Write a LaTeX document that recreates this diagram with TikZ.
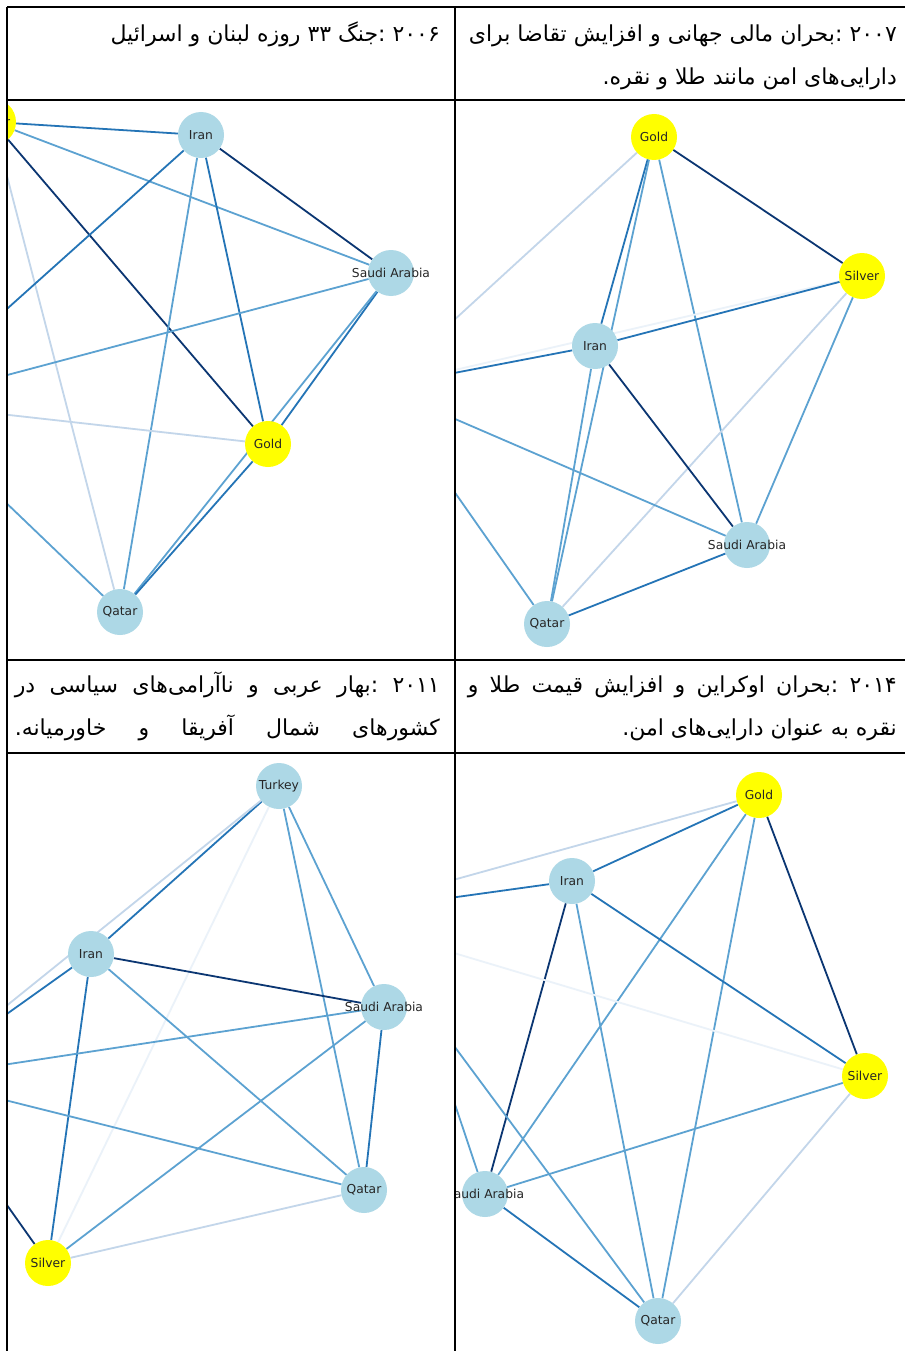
\documentclass[tikz,border=0pt]{standalone}
\usepackage{fontspec}
\newfontfamily\lblfont{DejaVu Sans}
\newfontfamily\farsi[Script=Arabic]{DejaVu Sans}
\TeXXeTstate=1
\definecolor{ndblue}{HTML}{ADD8E6}
\definecolor{ndyellow}{HTML}{FFFF00}
\definecolor{bl9}{HTML}{0B3672}
\definecolor{bl7}{HTML}{2474B6}
\definecolor{bl5}{HTML}{5CA2D1}
\definecolor{bl3}{HTML}{C3D6EA}
\definecolor{bl1}{HTML}{EBF2F9}
\pgfdeclarelayer{edges}
\pgfsetlayers{edges,main}
\newcommand\nlabel[1]{\makebox[0pt]{#1}}
\begin{document}
\begin{tikzpicture}[x=1pt, y=-1pt,
  gnode/.style={circle, fill=ndblue, minimum size=46pt, inner sep=0pt, text=black!85, font=\lblfont\fontsize{12.3}{13}\selectfont},
  ynode/.style={gnode, fill=ndyellow},
  hdr/.style={inner sep=0pt, anchor=base east, font=\farsi\fontsize{22}{26}\selectfont},
  elink/.style={line width=1.8pt},
  edark/.style={elink, draw=bl9},
  emid/.style={elink, draw=bl7},
  elight/.style={elink, draw=bl5},
  epale/.style={elink, draw=bl3},
  efaint/.style={elink, draw=bl1}]
\useasboundingbox (0,0) rectangle (905,1351);
\begin{pgfonlayer}{edges}
  \fill[white] (0,0) rectangle (905,1351);
\end{pgfonlayer}

% header texts
\node[hdr] (h06) at (440,42) {\beginR ۲۰۰۶ :\kern0pt جنگ ۳۳ روزه لبنان و اسرائیل\endR};
\node[hdr] (h07a) at (897,42) {\hbox to 428pt{\beginR ۲۰۰۷ :\kern0pt بحران مالی جهانی و افزایش تقاضا برای\endR}};
\node[hdr] (h07b) at (897,85) {\beginR دارایی‌های امن مانند طلا و نقره\kern0pt.\endR};
\node[hdr] (h11a) at (440,692) {\hbox to 425pt{\beginR ۲۰۱۱ :\kern0pt بهار عربی و ناآرامی‌های سیاسی در\endR}};
\node[hdr] (h11b) at (440,735) {\hbox to 425pt{\beginR کشورهای شمال آفریقا و خاورمیانه\kern0pt.\endR}};
\node[hdr] (h14a) at (897,692) {\hbox to 429pt{\beginR ۲۰۱۴ :\kern0pt بحران اوکراین و افزایش قیمت طلا و\endR}};
\node[hdr] (h14b) at (897,735) {\beginR نقره به عنوان دارایی‌های امن\kern0pt.\endR};

% 2006 network
\begin{scope}
  \clip (7,100) rectangle (455,660);
  \node[ynode] (si1) at (-7,122) {\nlabel{Silver}};
  \node[gnode] (ir1) at (201,135) {\nlabel{Iran}};
  \node[gnode] (sa1) at (391,273) {\nlabel{Saudi Arabia}};
  \node[ynode] (go1) at (268,444) {\nlabel{Gold}};
  \node[gnode] (qa1) at (120,612) {\nlabel{Qatar}};
  \coordinate (x1) at (-98,403);
  \begin{pgfonlayer}{edges}
  \begin{scope}
    \clip (7,100) rectangle (455,660);
    \draw[emid] (si1) -- (ir1);
    \draw[elight] (si1) -- (sa1);
    \draw[edark] (si1) -- (go1);
    \draw[epale] (si1) -- (qa1);
    \draw[emid] (ir1) -- (x1);
    \draw[edark] (ir1) -- (sa1);
    \draw[emid] (ir1) -- (go1);
    \draw[elight] (ir1) -- (qa1);
    \draw[elight] (sa1) -- (x1);
    \draw[emid] (sa1) -- (go1);
    \draw[elight] (sa1) -- (qa1);
    \draw[epale] (go1) -- (x1);
    \draw[emid] (go1) -- (qa1);
    \draw[elight] (qa1) -- (x1);
  \end{scope}
  \end{pgfonlayer}
\end{scope}

% 2007 network
\begin{scope}
  \clip (455,100) rectangle (905,660);
  \node[ynode] (go2) at (654,137) {\nlabel{Gold}};
  \node[ynode] (si2) at (862,276) {\nlabel{Silver}};
  \node[gnode] (ir2) at (595,346) {\nlabel{Iran}};
  \node[gnode] (sa2) at (747,545) {\nlabel{Saudi Arabia}};
  \node[gnode] (qa2) at (547,624) {\nlabel{Qatar}};
  \coordinate (x2) at (381,387);
  \begin{pgfonlayer}{edges}
  \begin{scope}
    \clip (455,100) rectangle (905,660);
    \draw[edark] (go2) -- (si2);
    \draw[emid] (go2) -- (ir2);
    \draw[elight] (go2) -- (qa2);
    \draw[elight] (go2) -- (sa2);
    \draw[epale] (go2) -- (x2);
    \draw[efaint] (si2) -- (x2);
    \draw[emid] (si2) -- (ir2);
    \draw[epale] (si2) -- (qa2);
    \draw[elight] (si2) -- (sa2);
    \draw[edark] (ir2) -- (sa2);
    \draw[elight] (ir2) -- (qa2);
    \draw[emid] (ir2) -- (x2);
    \draw[emid] (sa2) -- (qa2);
    \draw[elight] (sa2) -- (x2);
    \draw[elight] (qa2) -- (x2);
  \end{scope}
  \end{pgfonlayer}
\end{scope}

% 2011 network
\begin{scope}
  \clip (7,753) rectangle (455,1351);
  \node[gnode] (tu3) at (279,786) {\nlabel{Turkey}};
  \node[gnode] (ir3) at (91,954) {\nlabel{Iran}};
  \node[gnode] (sa3) at (384,1007) {\nlabel{Saudi Arabia}};
  \node[gnode] (qa3) at (364,1190) {\nlabel{Qatar}};
  \node[ynode] (si3) at (48,1263) {\nlabel{Silver}};
  \coordinate (x3) at (-83,1078);
  \begin{pgfonlayer}{edges}
  \begin{scope}
    \clip (7,753) rectangle (455,1351);
    \draw[emid] (tu3) -- (ir3);
    \draw[epale] (tu3) -- (x3);
    \draw[elight] (tu3) -- (sa3);
    \draw[elight] (tu3) -- (qa3);
    \draw[efaint] (tu3) -- (si3);
    \draw[edark] (ir3) -- (sa3);
    \draw[emid] (ir3) -- (x3);
    \draw[emid] (ir3) -- (si3);
    \draw[elight] (ir3) -- (qa3);
    \draw[elight] (sa3) -- (x3);
    \draw[emid] (sa3) -- (qa3);
    \draw[elight] (sa3) -- (si3);
    \draw[elight] (qa3) -- (x3);
    \draw[epale] (qa3) -- (si3);
    \draw[edark] (si3) -- (x3);
  \end{scope}
  \end{pgfonlayer}
\end{scope}

% 2014 network
\begin{scope}
  \clip (455,753) rectangle (905,1351);
  \node[ynode] (go4) at (759,795) {\nlabel{Gold}};
  \node[gnode] (ir4) at (572,881) {\nlabel{Iran}};
  \node[ynode] (si4) at (865,1076) {\nlabel{Silver}};
  \node[gnode] (sa4) at (485,1194) {\nlabel{Saudi Arabia}};
  \node[gnode] (qa4) at (658,1321) {\nlabel{Qatar}};
  \coordinate (x4a) at (327,915);
  \coordinate (x4b) at (420,1000);
  \begin{pgfonlayer}{edges}
  \begin{scope}
    \clip (455,753) rectangle (905,1351);
    \draw[emid] (go4) -- (ir4);
    \draw[epale] (go4) -- (x4a);
    \draw[edark] (go4) -- (si4);
    \draw[elight] (go4) -- (sa4);
    \draw[elight] (go4) -- (qa4);
    \draw[emid] (ir4) -- (x4a);
    \draw[emid] (ir4) -- (si4);
    \draw[edark] (ir4) -- (sa4);
    \draw[elight] (ir4) -- (qa4);
    \draw[efaint] (si4) -- (x4a);
    \draw[elight] (si4) -- (sa4);
    \draw[epale] (si4) -- (qa4);
    \draw[emid] (sa4) -- (qa4);
    \draw[elight] (qa4) -- (x4b);
    \draw[elight] (sa4) -- (x4b);
  \end{scope}
  \end{pgfonlayer}
\end{scope}

% table rules
\draw[line width=1.5pt] (7,7) -- (905,7) (7,100) -- (905,100) (7,660) -- (905,660) (7,753) -- (905,753);
\draw[line width=1.5pt] (7,7) -- (7,1351) (455,7) -- (455,1351);
\end{tikzpicture}
\end{document}
